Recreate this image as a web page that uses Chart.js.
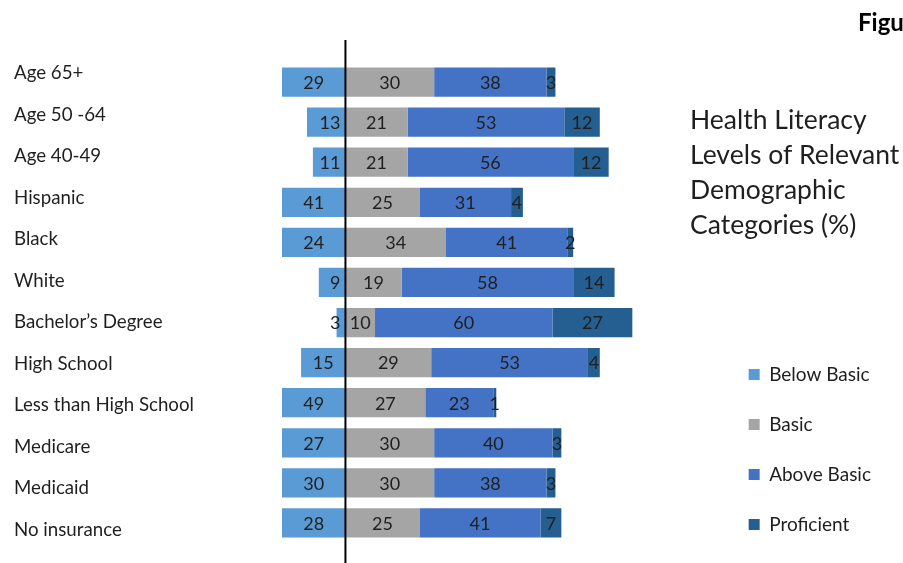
<!DOCTYPE html>
<html>
<head>
<meta charset="utf-8">
<script src="https://cdn.jsdelivr.net/npm/chart.js@4.4.1/dist/chart.umd.min.js"></script>
<style>
  html, body { margin: 0; padding: 0; background: #fff; }
</style>
</head>
<body>
<canvas id="literacyChart" width="903" height="563"></canvas>
<script>
const categories = ['Age 65+', 'Age 50 -64', 'Age 40-49', 'Hispanic', 'Black', 'White',
    'Bachelor\u2019s Degree', 'High School', 'Less than High School', 'Medicare', 'Medicaid', 'No insurance'];
const belowBasic = [29, 13, 11, 41, 24, 9, 3, 15, 49, 27, 30, 28];
const basic = [30, 21, 21, 25, 34, 19, 10, 29, 27, 30, 30, 25];
const aboveBasic = [38, 53, 56, 31, 41, 58, 60, 53, 23, 40, 38, 41];
const proficient = [3, 12, 12, 4, 2, 14, 27, 4, 1, 3, 3, 7];
const seriesNames = ['Below Basic', 'Basic', 'Above Basic', 'Proficient'];
const seriesColors = ['#5B9BD5', '#A5A5A5', '#4472C4', '#255E91'];
const titleLines = ['Health Literacy', 'Levels of Relevant', 'Demographic', 'Categories (%)'];
const figureLabel = 'Figure 1';

const FONT = 'Lato, sans-serif';
const TEXT = '#1f1f1f';

// below basic goes to the left of the zero line
const seriesData = [belowBasic.map(v => -v), basic, aboveBasic, proficient];

const overlay = {
    id: 'overlay',
    afterLayout(chart) {
        // push the legend down next to the lower rows
        const lg = chart.legend;
        if (lg) { lg.top += 22; lg.bottom += 22; }
    },
    afterDatasetsDraw(chart) {
        const { ctx, chartArea } = chart;
        const zeroX = chart.scales.x.getPixelForValue(0);
        ctx.save();
        ctx.font = '18px ' + FONT;
        ctx.fillStyle = TEXT;
        ctx.textBaseline = 'middle';
        chart.data.datasets.forEach((ds, di) => {
            chart.getDatasetMeta(di).data.forEach((bar, i) => {
                const l = Math.max(Math.min(bar.x, bar.base), chartArea.left);
                const r = Math.min(Math.max(bar.x, bar.base), chartArea.right);
                const txt = String(Math.abs(ds.data[i]));
                if (di === 0 && r - l < 40) {
                    ctx.textAlign = 'right';
                    ctx.fillText(txt, zeroX - 5, bar.y + 1);
                } else {
                    ctx.textAlign = 'center';
                    ctx.fillText(txt, (l + r) / 2, bar.y + 1);
                }
            });
        });

        ctx.strokeStyle = '#000';
        ctx.lineWidth = 2;
        ctx.beginPath();
        ctx.moveTo(zeroX, 40);
        ctx.lineTo(zeroX, 563);
        ctx.stroke();

        ctx.textAlign = 'left';
        ctx.font = '26.5px ' + FONT;
        titleLines.forEach((line, i) => ctx.fillText(line, 690, 120 + i * 35));

        ctx.font = 'bold 24px ' + FONT;
        ctx.textBaseline = 'alphabetic';
        ctx.fillStyle = '#000';
        ctx.fillText(figureLabel, 858, 31);
        ctx.restore();
    }
};

new Chart(document.getElementById('literacyChart'), {
    type: 'bar',
    data: {
        labels: categories,
        datasets: seriesData.map((d, i) => ({
            label: seriesNames[i],
            data: d,
            backgroundColor: seriesColors[i],
            borderWidth: 0,
            barPercentage: 0.73,
            categoryPercentage: 1.0,
            clip: 0
        }))
    },
    options: {
        indexAxis: 'y',
        responsive: false,
        animation: false,
        layout: { padding: { left: 14, top: 62, bottom: 20, right: 22 } },
        plugins: {
            tooltip: { enabled: false },
            title: { display: false },
            legend: {
                position: 'right',
                align: 'end',
                labels: {
                    boxWidth: 11,
                    boxHeight: 11,
                    padding: 31,
                    color: TEXT,
                    font: { family: FONT, size: 19 }
                }
            }
        },
        scales: {
            x: {
                stacked: true,
                display: false,
                min: -21.45,
                max: 125.85
            },
            y: {
                stacked: true,
                display: false
            },
            // category names sit on their own slightly wider spacing than the bars
            yLabels: {
                type: 'linear',
                position: 'left',
                reverse: true,
                offset: false,
                min: -0.265,
                max: 11.325,
                grid: { display: false, offset: false },
                border: { display: false },
                afterBuildTicks: scale => {
                    scale.ticks = categories.map((c, i) => ({ value: i }));
                },
                afterFit: scale => { scale.width = 268; },
                ticks: {
                    autoSkip: false,
                    crossAlign: 'far',
                    padding: 0,
                    color: TEXT,
                    font: { family: FONT, size: 18.7 },
                    callback: v => categories[v]
                }
            }
        }
    },
    plugins: [overlay]
});
</script>
</body>
</html>
